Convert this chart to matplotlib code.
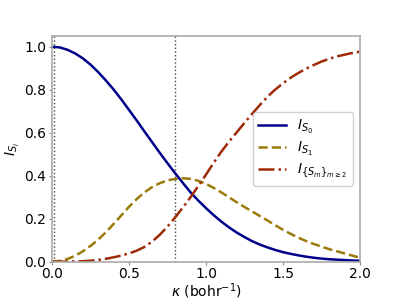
import matplotlib
matplotlib.use('Agg')
import matplotlib.pyplot as plt

# kappa grid (bohr^-1) and the three weights
kappa = [0.00, 0.05, 0.10, 0.15, 0.20, 0.25, 0.30, 0.35, 0.40, 0.45, 0.50,
         0.55, 0.60, 0.65, 0.70, 0.75, 0.80, 0.85, 0.90, 0.95, 1.00,
         1.05, 1.10, 1.15, 1.20, 1.25, 1.30, 1.35, 1.40, 1.45, 1.50,
         1.55, 1.60, 1.65, 1.70, 1.75, 1.80, 1.85, 1.90, 1.95, 2.00]
I_S0 = [1.000, 0.997, 0.986, 0.969, 0.946, 0.917, 0.882, 0.843, 0.801, 0.755, 0.706,
        0.657, 0.606, 0.556, 0.506, 0.458, 0.411, 0.366, 0.322, 0.284, 0.249,
        0.216, 0.186, 0.159, 0.135, 0.114, 0.095, 0.079, 0.066, 0.054, 0.044,
        0.036, 0.029, 0.023, 0.018, 0.014, 0.011, 0.009, 0.007, 0.005, 0.004]
I_S1 = [0.000, 0.003, 0.012, 0.027, 0.048, 0.073, 0.102, 0.137, 0.175, 0.215, 0.255,
        0.291, 0.322, 0.347, 0.365, 0.378, 0.385, 0.388, 0.385, 0.376, 0.362,
        0.343, 0.322, 0.299, 0.276, 0.254, 0.233, 0.212, 0.191, 0.169, 0.148,
        0.129, 0.111, 0.096, 0.082, 0.070, 0.058, 0.048, 0.038, 0.028, 0.018]
I_Sm = [0.000, 0.000, 0.000, 0.001, 0.002, 0.004, 0.008, 0.013, 0.020, 0.028, 0.038,
        0.051, 0.068, 0.093, 0.125, 0.163, 0.206, 0.252, 0.300, 0.352, 0.405,
        0.460, 0.512, 0.559, 0.602, 0.646, 0.688, 0.729, 0.768, 0.801, 0.830,
        0.856, 0.878, 0.898, 0.915, 0.931, 0.944, 0.955, 0.963, 0.971, 0.977]
vlines = [0.01, 0.8]

fig = plt.figure(figsize=(4, 3), dpi=100)
ax = fig.add_axes([0.13, 0.128, 0.77, 0.752])

for xv in vlines:
    ax.axvline(xv, color='#444444', linestyle=':', linewidth=1.0)

ax.plot(kappa, I_S0, color='#00008b', linewidth=1.8, label='$I_{S_0}$')
ax.plot(kappa, I_S1, color='#9c7a0a', linewidth=1.8, linestyle='--', label='$I_{S_1}$')
ax.plot(kappa, I_Sm, color='#9e2a06', linewidth=1.8, linestyle='-.', label='$I_{\\{S_m\\}_{m\\geq2}}$')

ax.set_xlim(0, 2.0)
ax.set_ylim(0, 1.05)
ax.set_xticks([0.0, 0.5, 1.0, 1.5, 2.0])
ax.set_yticks([0.0, 0.2, 0.4, 0.6, 0.8, 1.0])
ax.set_xlabel('$\\kappa$ (bohr$^{-1}$)', labelpad=0)
ax.set_ylabel('$I_{S_i}$', labelpad=2)

for sp in ax.spines.values():
    sp.set_color('#aaaaaa')
    sp.set_linewidth(1.2)
ax.tick_params(color='#888888', length=2.5, pad=1.5)

ax.legend(loc='center right', fontsize=10, labelspacing=0.3, framealpha=0.9)

plt.savefig('out.png', dpi=100)
